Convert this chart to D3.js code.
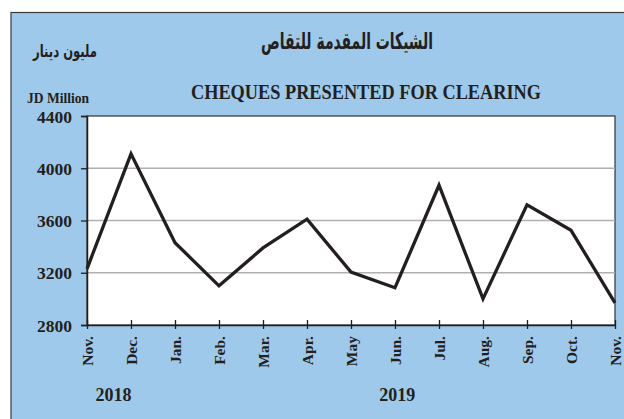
<!DOCTYPE html>
<html>
<head>
<meta charset="utf-8">
<script src="https://cdn.jsdelivr.net/npm/d3@7"></script>
<style>
  body { margin: 0; background: #fff; }
  text { font-family: "Liberation Serif", "Times New Roman", serif; font-weight: bold; fill: #231f20; }
</style>
</head>
<body>
<div id="chart"></div>
<script>
var months = ["Nov.", "Dec.", "Jan.", "Feb.", "Mar.", "Apr.", "May", "Jun.", "Jul.", "Aug.", "Sep.", "Oct.", "Nov."];
var values = [3230, 4110, 3430, 3100, 3390, 3610, 3205, 3085, 3870, 3000, 3720, 3525, 2970];
var yTicks = [2800, 3200, 3600, 4000, 4400];
var years = [{label: "2018", at: 0.6}, {label: "2019", at: 7.05}];

var W = 624, H = 419;
var margin = {top: 116, right: 9, bottom: 94, left: 87},
    width = W - margin.left - margin.right,
    height = H - margin.top - margin.bottom;

var root = d3.select("#chart")
    .append("svg")
    .attr("width", W)
    .attr("height", H);

// blue panel
root.append("rect")
    .attr("x", 11).attr("y", 12.5)
    .attr("width", W).attr("height", H)
    .attr("fill", "#9ec9ea")
    .attr("stroke", "#3a3a3a")
    .attr("stroke-width", 1.2);

root.append("text")
    .attr("x", 261).attr("y", 49)
    .attr("textLength", 172)
    .attr("lengthAdjust", "spacingAndGlyphs")
    .style("font-family", "'DejaVu Sans', sans-serif")
    .style("font-size", "23px")
    .text("الشيكات المقدمة للتقاص");

root.append("text")
    .attr("x", 33).attr("y", 57)
    .attr("textLength", 64)
    .attr("lengthAdjust", "spacingAndGlyphs")
    .style("font-family", "'DejaVu Sans', sans-serif")
    .style("font-size", "17px")
    .text("مليون دينار");

root.append("text")
    .attr("x", 191).attr("y", 99)
    .attr("textLength", 350)
    .attr("lengthAdjust", "spacingAndGlyphs")
    .style("font-size", "20.5px")
    .text("CHEQUES PRESENTED FOR CLEARING");

root.append("text")
    .attr("x", 27).attr("y", 103)
    .attr("textLength", 62)
    .attr("lengthAdjust", "spacingAndGlyphs")
    .style("font-size", "14.5px")
    .text("JD Million");

var svg = root.append("g")
    .attr("transform", "translate(" + margin.left + "," + margin.top + ")");

svg.append("rect")
    .attr("width", width).attr("height", height)
    .attr("fill", "#fff")
    .attr("stroke", "#333")
    .attr("stroke-width", 1.2);

var x = d3.scaleLinear()
    .domain([0, months.length - 1])
    .range([0, width]);

var y = d3.scaleLinear()
    .domain([2800, 4400])
    .range([height, 0]);

// grid
svg.append("g")
    .selectAll("line")
    .data(yTicks.slice(1, -1))
    .enter()
    .append("line")
      .attr("x1", 0).attr("x2", width)
      .attr("y1", function(d) { return y(d); })
      .attr("y2", function(d) { return y(d); })
      .attr("stroke", "#b0b0b0")
      .attr("stroke-width", 1.3);

var yAxis = svg.append("g")
    .call(d3.axisLeft(y).tickValues(yTicks).tickSize(6).tickPadding(9).tickFormat(d3.format("d")));
yAxis.select(".domain").attr("stroke", "#231f20").attr("stroke-width", 1.5);
yAxis.selectAll(".tick line").attr("stroke", "#231f20").attr("stroke-width", 1.3);
yAxis.selectAll("text")
    .style("font-family", "'Liberation Serif', serif")
    .style("font-weight", "bold")
    .style("font-size", "17.5px")
    .attr("dy", "0.35em")
    .attr("fill", "#231f20");

var xAxis = svg.append("g")
    .attr("transform", "translate(0," + height + ")")
    .call(d3.axisBottom(x).tickValues(d3.range(months.length)).tickSize(0).tickFormat(function(i) { return months[i]; }));
xAxis.select(".domain").attr("stroke", "#231f20").attr("stroke-width", 1.5);
xAxis.selectAll(".tick").append("line")
    .attr("y1", -5).attr("y2", 4)
    .attr("stroke", "#231f20").attr("stroke-width", 1.3);
xAxis.selectAll("text")
    .style("font-family", "'Liberation Serif', serif")
    .style("font-weight", "bold")
    .style("font-size", "15.5px")
    .attr("fill", "#231f20")
    .attr("transform", "rotate(-90)")
    .attr("text-anchor", "end")
    .attr("x", -11).attr("y", 0).attr("dy", "0.35em");

svg.append("path")
    .datum(values)
    .attr("fill", "none")
    .attr("stroke", "#231f20")
    .attr("stroke-width", 3.3)
    .attr("stroke-linejoin", "miter")
    .attr("d", d3.line()
        .x(function(d, i) { return x(i); })
        .y(function(d) { return y(d); }));

svg.selectAll(".year")
    .data(years)
    .enter()
    .append("text")
      .attr("class", "year")
      .attr("x", function(d) { return x(d.at); })
      .attr("y", height + 76)
      .attr("text-anchor", "middle")
      .style("font-size", "18px")
      .text(function(d) { return d.label; });
</script>
</body>
</html>
